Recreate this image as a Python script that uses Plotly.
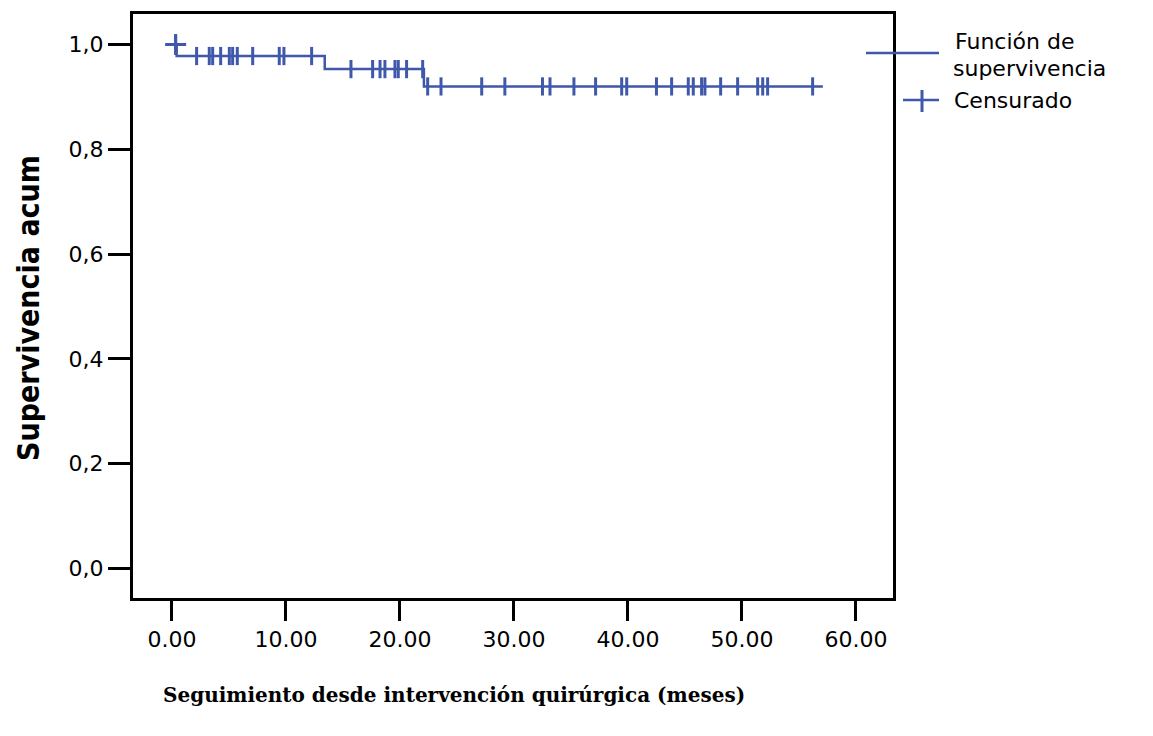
import plotly.graph_objects as go

# Kaplan-Meier step function: event times and survival after each step
step_times = [0.0, 0.41, 13.4, 22.1, 57.1]
step_surv = [1.0, 0.978, 0.953, 0.920, 0.920]

# Censored observations (months)
censored_times = [
    0.32,
    2.16, 3.27, 3.57, 4.27, 5.03, 5.32, 5.73, 7.08, 9.41, 9.82, 12.25,
    15.70, 17.60, 18.25, 18.68, 19.56, 19.85, 20.58, 21.99,
    22.43, 23.60, 27.17, 29.20, 32.50, 33.16, 35.26, 37.16, 39.45, 39.89,
    42.50, 43.83, 45.29, 45.73, 46.46, 46.75, 48.13, 49.62, 51.38, 51.82,
    52.25, 56.20,
]

x_tick_vals = [0, 10, 20, 30, 40, 50, 60]
x_tick_text = ["0.00", "10.00", "20.00", "30.00", "40.00", "50.00", "60.00"]
y_tick_vals = [0.0, 0.2, 0.4, 0.6, 0.8, 1.0]
y_tick_text = ["0,0", "0,2", "0,4", "0,6", "0,8", "1,0"]

BLUE = "#3F58AA"


def surv_at(t):
    s = step_surv[0]
    for tt, ss in zip(step_times, step_surv):
        if t >= tt:
            s = ss
    return s


censored_surv = [surv_at(t) for t in censored_times]

fig = go.Figure()
fig.add_trace(go.Scatter(
    x=step_times, y=step_surv, mode="lines", line_shape="hv",
    line=dict(color=BLUE, width=2.5), showlegend=False, hoverinfo="skip",
))
fig.add_trace(go.Scatter(
    x=censored_times, y=censored_surv, mode="markers",
    marker=dict(symbol="line-ns", size=13, color=BLUE,
                line=dict(color=BLUE, width=3)),
    showlegend=False,
))
# first censored mark drawn as a full cross at the top level
fig.add_trace(go.Scatter(
    x=censored_times[:1], y=censored_surv[:1], mode="markers",
    marker=dict(symbol="cross-thin", size=15, color=BLUE,
                line=dict(color=BLUE, width=3)),
    showlegend=False,
))

# plot-area geometry in pixels
L, R, T, B = 133, 893, 14, 598
W, H = 1153, 736


def px(x):
    return (x - L) / (R - L)


def py(y):
    return (B - y) / (B - T)


shapes = [
    dict(type="line", xref="paper", yref="paper", x0=px(866), x1=px(939),
         y0=py(53), y1=py(53), line=dict(color=BLUE, width=2.5)),
    dict(type="line", xref="paper", yref="paper", x0=px(903), x1=px(939),
         y0=py(100), y1=py(100), line=dict(color=BLUE, width=2.5)),
    dict(type="line", xref="paper", yref="paper", x0=px(922), x1=px(922),
         y0=py(90), y1=py(112), line=dict(color=BLUE, width=3)),
]

font_sans = "DejaVu Sans, Arial, sans-serif"
annotations = [
    dict(text="Función de", xref="paper", yref="paper", x=px(953), y=py(41),
         xanchor="left", yanchor="middle", showarrow=False,
         font=dict(family=font_sans, size=22, color="black")),
    dict(text="supervivencia", xref="paper", yref="paper", x=px(951), y=py(68),
         xanchor="left", yanchor="middle", showarrow=False,
         font=dict(family=font_sans, size=22, color="black")),
    dict(text="Censurado", xref="paper", yref="paper", x=px(952), y=py(100),
         xanchor="left", yanchor="middle", showarrow=False,
         font=dict(family=font_sans, size=22, color="black")),
    dict(text="<b>Supervivencia acum</b>", xref="paper", yref="paper",
         x=px(28), y=py(308), xanchor="center", yanchor="middle",
         textangle=-90, showarrow=False,
         font=dict(family="Liberation Sans Narrow, DejaVu Sans Condensed, sans-serif",
                   size=30, color="black")),
    dict(text="<b>Seguimiento desde intervención quirúrgica (meses)</b>",
         xref="paper", yref="paper", x=px(454), y=py(695),
         xanchor="center", yanchor="middle", showarrow=False,
         font=dict(family="DejaVu Serif, Liberation Serif, serif",
                   size=20, color="black")),
]

fig.update_layout(
    width=W, height=H,
    margin=dict(l=L, r=W - R, t=T, b=H - B),
    paper_bgcolor="white", plot_bgcolor="white",
    shapes=shapes, annotations=annotations,
    xaxis=dict(range=[-3.42, 63.25], tickvals=x_tick_vals, ticktext=x_tick_text,
               ticks="outside", ticklen=20, tickwidth=3, tickcolor="black",
               showline=True, linewidth=3, linecolor="black", mirror=True,
               showgrid=False, zeroline=False,
               tickfont=dict(family=font_sans, size=22, color="black")),
    yaxis=dict(range=[-0.0563, 1.0582], tickvals=y_tick_vals, ticktext=y_tick_text,
               ticks="outside", ticklen=22, tickwidth=3, tickcolor="black",
               showline=True, linewidth=3, linecolor="black", mirror=True,
               showgrid=False, zeroline=False,
               tickfont=dict(family=font_sans, size=22, color="black")),
)

fig.write_html("out.html")
